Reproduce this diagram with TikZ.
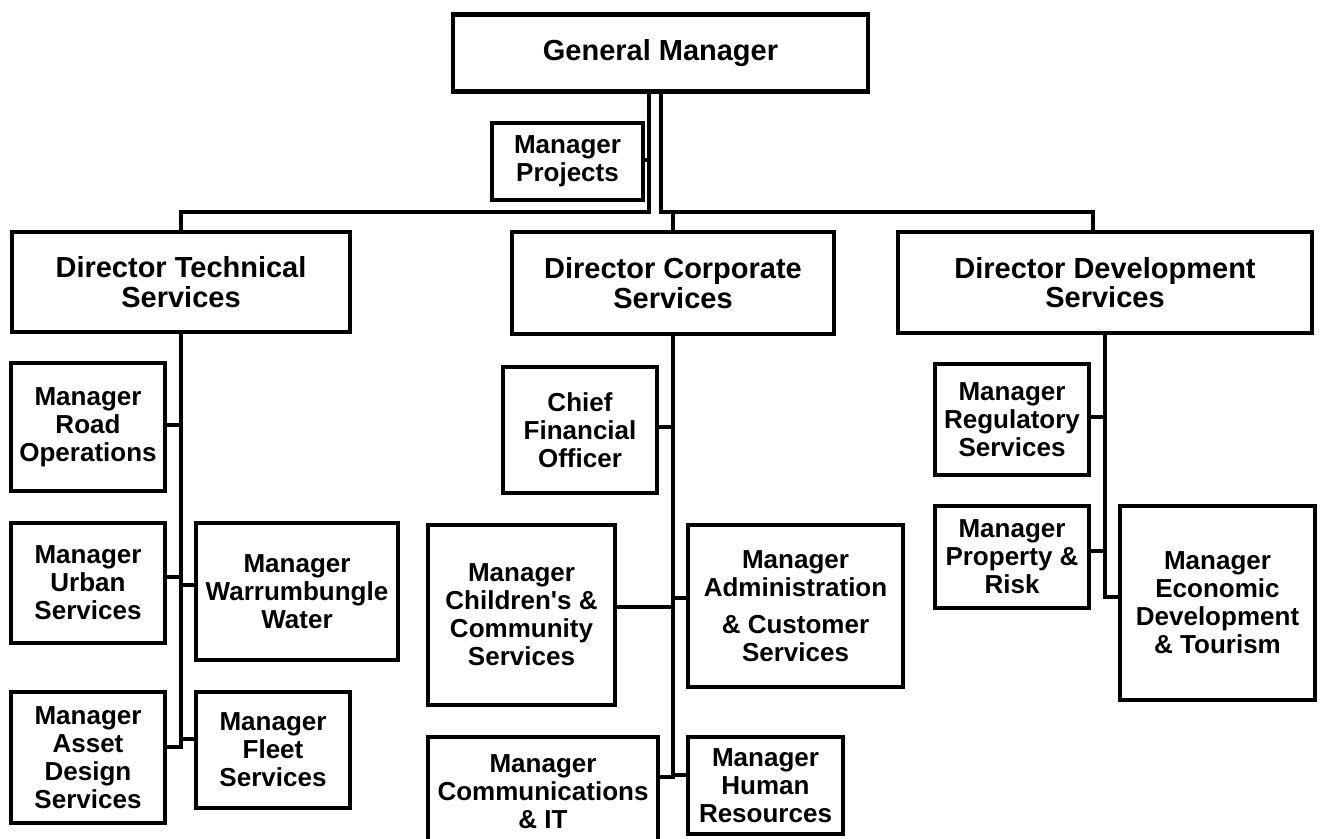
\documentclass[tikz,border=0pt]{standalone}
\usepackage{fontspec}
\setmainfont{Liberation Sans}

\begin{document}
\begin{tikzpicture}[x=0.2mm, y=-0.2mm, line width=2.5pt,
		box/.style={draw, rectangle, inner sep=0pt, align=center, line width=2.5pt},
		head/.style={box, font=\fontsize{16.5}{16.8}\selectfont\bfseries},
		mgr/.style={box, font=\fontsize{14.8}{15.9}\selectfont\bfseries}]
			\useasboundingbox[fill=white] (0,0) rectangle (1321,838);
			% top level
			\node[head, minimum width=8.3cm,  minimum height=1.54cm] (gm)  at (660.5, 53)   {General Manager};
			\node[mgr,  minimum width=3.02cm, minimum height=1.54cm] (proj) at (567.5,161.5) {Manager\\Projects};
			\node[head, minimum width=6.76cm, minimum height=2.0cm]  (dts) at (181,  282)   {Director Technical\\Services};
			\node[head, minimum width=6.44cm, minimum height=2.04cm] (dcs) at (673,  283)   {Director Corporate\\Services};
			\node[head, minimum width=8.28cm, minimum height=2.02cm] (dds) at (1105, 282.5) {Director Development\\Services};
			%
			\node[mgr, minimum width=3.08cm, minimum height=2.56cm] (road)  at (88,   427)   {Manager\\Road\\Operations};
			\node[mgr, minimum width=3.08cm, minimum height=2.4cm]  (urban) at (88,   583)   {Manager\\Urban\\Services};
			\node[mgr, minimum width=4.04cm, minimum height=2.74cm] (water) at (297,  591.5) {Manager\\Warrumbungle\\Water};
			\node[mgr, minimum width=3.08cm, minimum height=2.62cm] (asset) at (88,   757.5) {Manager\\Asset\\Design\\Services};
			\node[mgr, minimum width=3.08cm, minimum height=2.32cm] (fleet) at (273,  750)   {Manager\\Fleet\\Services};
			%
			\node[mgr, minimum width=3.08cm, minimum height=2.52cm] (cfo)   at (580,  430)   {Chief\\Financial\\Officer};
			\node[mgr, minimum width=3.74cm, minimum height=3.6cm]  (child) at (521.5,615)   {Manager\\Children\textquotesingle s \&\\Community\\Services};
			\node[mgr, minimum width=4.3cm,  minimum height=3.24cm] (admin) at (795.5,606)   {Manager\\Administration\\[5pt]\& Customer\\Services};
			\node[mgr, minimum width=4.6cm,  minimum height=2.18cm] (comm)  at (543,  791.5) {Manager\\Communications\\\& IT};
			\node[mgr, minimum width=3.1cm,  minimum height=1.94cm] (hr)    at (765.5,785.5) {Manager\\Human\\Resources};
			%
			\node[mgr, minimum width=3.08cm, minimum height=2.22cm] (reg)   at (1012, 419.5) {Manager\\Regulatory\\Services};
			\node[mgr, minimum width=3.08cm, minimum height=2.04cm] (prop)  at (1012, 557)   {Manager\\Property \&\\Risk};
			\node[mgr, minimum width=3.9cm,  minimum height=3.88cm] (econ)  at (1217.5,603)  {Manager\\Economic\\Development\\\& Tourism};
			%
			\coordinate (jl) at (649,212);
			\coordinate (jr) at (661,212);
			\draw (gm.south -| jl) -- (jl) -| (dts.north);
			\draw (gm.south -| jr) -- (jr) -| ([xshift=-2.4mm]dds.north);
			\draw (dcs.north) -- (dcs.north |- jr);
			%
			\draw (dts.south) |- ([yshift=2.1mm]asset.east);
			\draw (dcs.south) |- ([yshift=2.9mm]comm.east);
			\draw (dds.south) |- ([yshift=1.2mm]econ.west);
			%
			\def\leftlist {proj/jl/1.5, road/dts/2, urban/dts/6, cfo/dcs/3, child/dcs/8, reg/dds/2.5, prop/dds/6}  % boxes left of the line
			\foreach \n/\t/\dy in \leftlist
			{	\draw ([yshift=\dy*0.2mm]\n.east) -- ([yshift=\dy*0.2mm]\n.east -| \t);
			}
			\def\rightlist {water/dts/6.5, fleet/dts/11, admin/dcs/8, hr/dcs/10.5}  % boxes right of the line
			\foreach \n/\t/\dy in \rightlist
			{	\draw ([yshift=\dy*0.2mm]\n.west) -- ([yshift=\dy*0.2mm]\n.west -| \t);
			}
			%
		\end{tikzpicture}
\end{document}
